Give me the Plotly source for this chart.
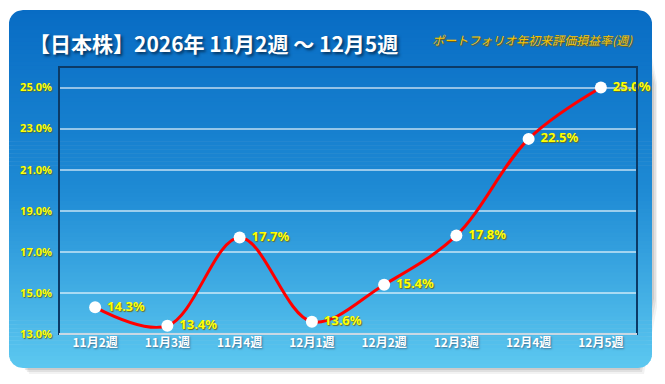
import plotly.graph_objects as go
import numpy as np

weeks = ["11月2週", "11月3週", "11月4週", "12月1週", "12月2週", "12月3週", "12月4週", "12月5週"]
returns = [14.3, 13.4, 17.7, 13.6, 15.4, 17.8, 22.5, 25.0]
y_ticks = [13, 15, 17, 19, 21, 23, 25]
y_tick_labels = ["13.0%", "15.0%", "17.0%", "19.0%", "21.0%", "23.0%", "25.0%"]
title_text = "【日本株】2026年 11月2週 ～ 12月5週"
subtitle_text = "ポートフォリオ年初来評価損益率(週)"

OFF = 8  # page body margin
W, H = 665 - OFF, 384 - OFF
PL, PR, PT, PB = 59 - OFF, 637 - OFF, 67 - OFF, 334 - OFF


def px2p(x, y):
    x -= OFF
    y -= OFF
    return (x - PL) / (PR - PL), (PB - y) / (PB - PT)


def rr_left(y, x0, y0, x1, y1, r):
    if y < y0 + r:
        dy = y0 + r - y
    elif y > y1 - r:
        dy = y - (y1 - r)
    else:
        return x0
    dy = min(dy, r)
    return x0 + r - np.sqrt(max(r * r - dy * dy, 0))


def band_path(ya, yb, x0, y0, x1, y1, r):
    ys = np.linspace(ya, yb, 6)
    left = [(rr_left(y, x0, y0, x1, y1, r), y) for y in ys]
    right = [(x1 - (l - x0), y) for l, y in reversed(left)]
    pts = left + right
    s = ""
    for i, (x, y) in enumerate(pts):
        xp, yp = px2p(x, y)
        s += ("M" if i == 0 else "L") + f"{xp:.5f},{yp:.5f} "
    return s + "Z"


def lerp_col(c1, c2, t):
    return "rgb(%d,%d,%d)" % tuple(int(round(a + (b - a) * t)) for a, b in zip(c1, c2))


shapes = []
bx0, by0, bx1, by1, rad = 9, 10, 652, 368, 14
for off, col in [(6, "rgba(0,0,0,0.05)"), (4, "rgba(0,0,0,0.07)"), (2, "rgba(0,0,0,0.09)")]:
    shapes.append(dict(type="path", xref="paper", yref="paper", layer="below",
                       path=band_path(by0 + off, by1 + off, bx0 + off, by0 + off, bx1 + off, by1 + off, rad),
                       fillcolor=col, line=dict(width=0)))

top_c = (8, 108, 196)
mid_c = (30, 138, 212)
bot_c = (92, 200, 240)
n = 90
edges = np.linspace(by0, by1, n + 1)
for i in range(n):
    ya, yb = edges[i], min(edges[i + 1] + 0.6, by1)
    t = (i + 0.5) / n
    if t < 0.5:
        col = lerp_col(top_c, mid_c, t / 0.5)
    else:
        col = lerp_col(mid_c, bot_c, (t - 0.5) / 0.5)
    shapes.append(dict(type="path", xref="paper", yref="paper", layer="below",
                       path=band_path(ya, yb, bx0, by0, bx1, by1, rad),
                       fillcolor=col, line=dict(width=0)))

shapes.append(dict(type="rect", xref="paper", yref="paper", x0=0, x1=1, y0=0, y1=1,
                   line=dict(color="#0b3a66", width=2), layer="above"))
shapes.append(dict(type="line", xref="paper", yref="paper", x0=0, x1=1, y0=0, y1=0,
                   line=dict(color="#c8d8e4", width=2), layer="above"))

fig = go.Figure()
fig.add_trace(go.Scatter(
    x=weeks, y=returns, mode="lines+markers+text",
    line=dict(color="#ff0000", width=3, shape="spline", smoothing=1.0),
    marker=dict(color="white", size=12, line=dict(width=0)),
    text=[" " + f"{v:.1f}%" for v in returns], textposition="middle right",
    textfont=dict(family="Noto Sans, sans-serif", size=13, color="#ffff00", weight="bold",
                  shadow="1px 1px 1px #6b6b20"),
    cliponaxis=False, hoverinfo="skip",
))

fig.update_layout(
    width=W, height=H,
    margin=dict(l=PL, r=W - PR, t=PT, b=H - PB),
    paper_bgcolor="white", plot_bgcolor="rgba(0,0,0,0)",
    showlegend=False,
    shapes=shapes,
    xaxis=dict(range=[-0.5, 7.5], showgrid=False, zeroline=False, showline=False, ticks="",
               tickfont=dict(family="Noto Sans CJK JP, sans-serif", size=12, color="white", weight="bold",
                             shadow="1px 1px 2px #3a6e90"),
               fixedrange=True),
    yaxis=dict(range=[13, 26], tickvals=y_ticks, ticktext=y_tick_labels,
               showgrid=True, gridcolor="rgba(255,255,255,0.55)", gridwidth=1.5,
               zeroline=False, showline=False, ticks="", ticklabelstandoff=6,
               tickfont=dict(family="Noto Sans, sans-serif", size=11, color="#ffff00", weight="bold",
                             shadow="1px 1px 1px #4a6a40"),
               fixedrange=True),
    annotations=[
        dict(text=title_text, xref="paper", yref="paper", x=px2p(27, 0)[0], y=px2p(0, 43)[1],
             xanchor="left", yanchor="middle", showarrow=False,
             font=dict(family="Noto Sans CJK JP, sans-serif", size=21, color="white", weight="bold",
                       shadow="2px 2px 3px #05335c")),
        dict(text=subtitle_text, xref="paper", yref="paper", x=px2p(430, 0)[0], y=px2p(0, 40)[1],
             xanchor="left", yanchor="middle", showarrow=False,
             font=dict(family="Noto Sans CJK JP, sans-serif", size=12, color="#f5c400", style="italic",
                       shadow="1px 1px 1px #7a5a00")),
    ],
)

fig.write_html("out.html")
